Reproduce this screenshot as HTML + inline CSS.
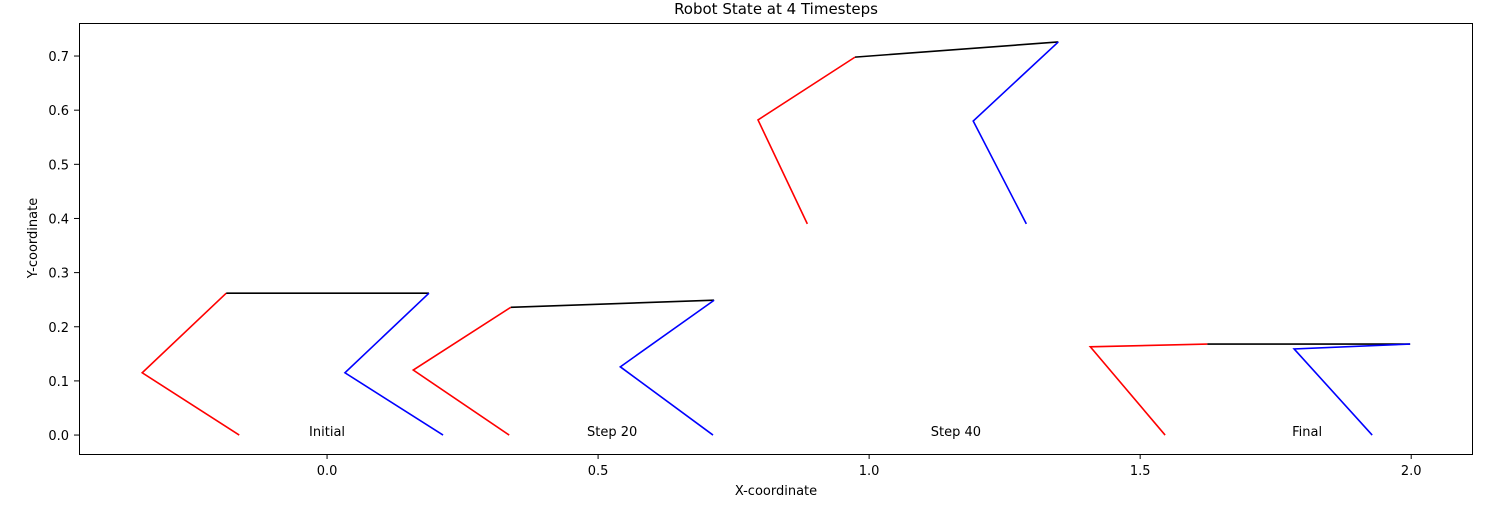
<!DOCTYPE html>
<html><head><meta charset="utf-8"><style>
body{margin:0;background:#fff;font-family:"Liberation Sans","DejaVu Sans",sans-serif}
svg text{font-family:"DejaVu Sans","Liberation Sans",sans-serif}
</style></head><body>
<svg id="chart" width="1500" height="500" viewBox="0 0 1500 500" xmlns="http://www.w3.org/2000/svg">
<rect x="0" y="0" width="1500" height="500" fill="#fff"/>
<text x="776" y="14" font-size="15" text-anchor="middle">Robot State at 4 Timesteps</text>
<g id="marks"></g>
<g id="axes"></g>
<rect x="79.5" y="23.5" width="1393" height="431" fill="none" stroke="#000" stroke-width="1"/>
<text x="776" y="495" font-size="13" text-anchor="middle">X-coordinate</text>
<text x="37" y="238" font-size="13" text-anchor="middle" transform="rotate(-90 37 238)">Y-coordinate</text>
</svg>
<script>
const labels = ["Initial","Step 20","Step 40","Final"];
const labelX = [0.0, 0.526, 1.16, 1.808];
const redLegX = [[-0.162,-0.341,-0.186],[0.336,0.159,0.339],[0.886,0.795,0.974],[1.546,1.408,1.624]];
const redLegY = [[0,0.115,0.262],[0,0.12,0.236],[0.39,0.582,0.698],[0,0.163,0.168]];
const blueLegX = [[0.188,0.033,0.214],[0.714,0.541,0.712],[1.349,1.192,1.290],[1.998,1.784,1.928]];
const blueLegY = [[0.262,0.115,0],[0.249,0.126,0],[0.726,0.58,0.39],[0.168,0.159,0]];
const xTicks = [0.0,0.5,1.0,1.5,2.0];
const yTicks = [0.0,0.1,0.2,0.3,0.4,0.5,0.6,0.7];

const X0=79,X1=1473,Y0=454,Y1=23, xmin=-0.4576,xmax=2.114,ymin=-0.035,ymax=0.761;
const sx=v=>X0+(v-xmin)/(xmax-xmin)*(X1-X0);
const sy=v=>Y0-(v-ymin)/(ymax-ymin)*(Y0-Y1);
const NS="http://www.w3.org/2000/svg";
const marks=document.getElementById('marks'), axes=document.getElementById('axes');
function line(xs,ys,color,name){
  const p=document.createElementNS(NS,'polyline');
  p.setAttribute('points',xs.map((x,i)=>sx(x)+','+sy(ys[i])).join(' '));
  p.setAttribute('fill','none');p.setAttribute('stroke',color);p.setAttribute('stroke-width','1.6');
  
  
  marks.appendChild(p);
}
for(let i=0;i<labels.length;i++){
  line(redLegX[i],redLegY[i],'#ff0000','red-leg-'+i);
  line([redLegX[i][2],blueLegX[i][0]],[redLegY[i][2],blueLegY[i][0]],'#000','body-'+i);
  line(blueLegX[i],blueLegY[i],'#0000ff','blue-leg-'+i);
  const t=document.createElementNS(NS,'text');
  t.setAttribute('x',sx(labelX[i]));t.setAttribute('y',sy(0)+1);
  t.setAttribute('text-anchor','middle');t.setAttribute('font-size','13');
  t.textContent=labels[i];
  
  
  marks.appendChild(t);
}
xTicks.forEach(v=>{
  const x=sx(v);
  const l=document.createElementNS(NS,'line');
  l.setAttribute('x1',x);l.setAttribute('x2',x);l.setAttribute('y1',454);l.setAttribute('y2',459);l.setAttribute('stroke','#000');
  
  
  axes.appendChild(l);
  const t=document.createElementNS(NS,'text');
  t.setAttribute('x',x);t.setAttribute('y',475);t.setAttribute('text-anchor','middle');t.setAttribute('font-size','13');
  t.textContent=v.toFixed(1);
  
  
  axes.appendChild(t);
});
yTicks.forEach(v=>{
  const y=sy(v);
  const l=document.createElementNS(NS,'line');
  l.setAttribute('x1',74);l.setAttribute('x2',79);l.setAttribute('y1',y);l.setAttribute('y2',y);l.setAttribute('stroke','#000');
  
  
  axes.appendChild(l);
  const t=document.createElementNS(NS,'text');
  t.setAttribute('x',69);t.setAttribute('y',y+5);t.setAttribute('text-anchor','end');t.setAttribute('font-size','13');
  t.textContent=v.toFixed(1);
  
  
  axes.appendChild(t);
});
</script>
</body></html>
